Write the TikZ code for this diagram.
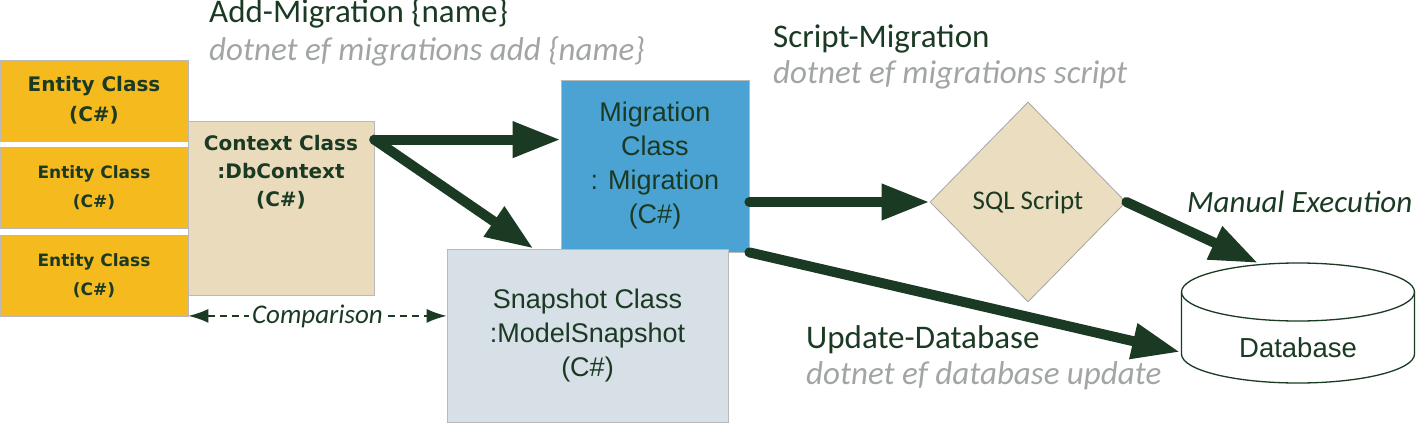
\documentclass[tikz,border=0pt]{standalone}
\usepackage{fontspec}
\setmainfont{Liberation Sans}
\newfontfamily\calfont{Carlito}
\newfontfamily\dejafont{DejaVu Sans}
\usetikzlibrary{arrows.meta,shapes.geometric}
\definecolor{dkgreen}{HTML}{1B3A23}
\definecolor{entityc}{HTML}{F5BA1E}
\definecolor{ctxc}{HTML}{EADBBD}
\definecolor{migc}{HTML}{4BA3D3}
\definecolor{snapc}{HTML}{D7DFE7}
\definecolor{sqlc}{HTML}{EADDC0}
\definecolor{cmdgray}{HTML}{A2A6A2}
\begin{document}
\begin{tikzpicture}[x=1pt,y=-1pt,
  box/.style={draw=gray!55, line width=0.8pt, inner sep=0pt, align=center, text=dkgreen},
  entity/.style={box, fill=entityc, minimum width=188pt, minimum height=81pt,
    font=\dejafont\bfseries\fontsize{17}{29}\selectfont},
  arialtext/.style={font=\fontsize{27}{34}\selectfont, text=dkgreen, align=center},
  cmdtitle/.style={anchor=base west, inner sep=0pt, text=dkgreen, font=\calfont\fontsize{33}{33}\selectfont},
  cmdline/.style={anchor=base west, inner sep=0pt, text=cmdgray, font=\calfont\itshape\fontsize{33}{33}\selectfont},
  bigarrow/.style={draw=dkgreen, line width=10pt, line cap=round, -{Triangle[length=48pt,width=34pt]}},
  cmparrow/.style={draw=dkgreen, line width=1.6pt, dash pattern=on 7pt off 5pt,
    {Latex[length=20pt,width=14pt]}-{Latex[length=20pt,width=14pt]}}
]
\useasboundingbox (0,0) rectangle (1425,423);

% context class box
\node[box, fill=ctxc, minimum width=186pt, minimum height=174pt] (ctx) at (281,208) {};
\node[text=dkgreen, align=center, font=\dejafont\bfseries\fontsize{20}{28}\selectfont] (ctxt) at (281,172)
  {Context Class\\:DbContext\\(C\#)};

% entity classes
\node[entity, font=\dejafont\bfseries\fontsize{20}{30}\selectfont] (e1) at (94,100.5) {Entity Class\\(C\#)};
\node[entity] (e2) at (94,187.5) {Entity Class\\(C\#)};
\node[entity] (e3) at (94,276) {Entity Class\\(C\#)};

% migration and snapshot
\node[box, fill=migc, minimum width=188pt, minimum height=172pt, arialtext] (mig) at (655,166)
  {Migration\\Class\\: Migration\\(C\#)};
\node[box, fill=snapc, minimum width=281pt, minimum height=173pt, arialtext] (snap) at (587.5,335.5)
  {Snapshot Class\\:ModelSnapshot\\(C\#)};

% sql script
\node[diamond, draw=gray!70, line width=0.8pt, fill=sqlc, minimum width=196pt, minimum height=200pt,
  inner sep=0pt, text=dkgreen, font=\calfont\fontsize{27}{27}\selectfont] (sql) at (1028,202) {SQL Script};

% database cylinder
\filldraw[fill=white, draw=dkgreen, line width=1.3pt]
  (1181.5,292) -- (1181.5,354) arc[start angle=180, end angle=360, x radius=116.5pt, y radius=29pt]
  -- (1414.5,292) arc[start angle=0, end angle=180, x radius=116.5pt, y radius=29pt] -- cycle;
\draw[dkgreen, line width=1.3pt] (1181.5,292) arc[start angle=180, end angle=360, x radius=116.5pt, y radius=29pt];
\node[text=dkgreen, font=\fontsize{27.5}{27.5}\selectfont] (db) at (1298,348) {Database};
\coordinate (dbtop) at (1258,263);
\coordinate (dbleft) at (1180,352);

% command labels
\node[cmdtitle] (addm) at (209,23) {Add-Migration \{name\}};
\node[cmdline] (addc) at (209,60) {dotnet ef migrations add \{name\}};
\node[cmdtitle] (scrm) at (773,47) {Script-Migration};
\node[cmdline] (scrc) at (773,83) {dotnet ef migrations script};
\node[cmdtitle] (upd) at (806,348) {Update-Database};
\node[cmdline] (updc) at (806,384) {dotnet ef database update};
\node[anchor=base west, inner sep=0pt, text=dkgreen, font=\calfont\itshape\fontsize{31}{31}\selectfont]
  (man) at (1187,212) {Manual Execution};

% connectors
\draw[bigarrow] ([yshift=-19pt]ctx.north east) -- ([yshift=-19pt]ctx.north east -| mig.west);
\draw[bigarrow] ([yshift=-19pt]ctx.north east) -- ([xshift=-54pt]snap.north);
\draw[bigarrow] (mig.east |- sql.west) -- (sql.west);
\draw[bigarrow] (sql.east) -- (dbtop);
\draw[bigarrow] (mig.south east) -- (dbleft);
\draw[cmparrow] ([yshift=1pt]e3.south east) -- ([yshift=1pt]e3.south east -| snap.west)
  node[midway, fill=white, inner sep=3pt, text=dkgreen, font=\calfont\itshape\fontsize{27}{27}\selectfont] (cmp) {Comparison};
\end{tikzpicture}
\end{document}
